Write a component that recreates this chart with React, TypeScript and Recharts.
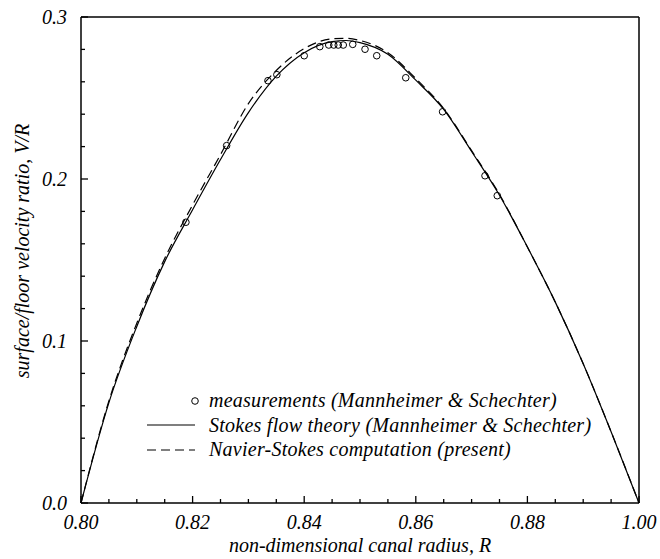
import React from 'react';
import { ComposedChart, Line, Scatter, XAxis, YAxis, Legend, Label } from 'recharts';

// radius positions for the two theory curves
const R_THEORY = [
  0.8, 0.805, 0.81, 0.815, 0.82, 0.825, 0.83, 0.835, 0.84, 0.845, 0.8475,
  0.85, 0.855, 0.86, 0.865, 0.87, 0.875, 0.88, 0.885, 0.89, 0.895, 0.9,
];
const V_STOKES = [
  0, 0.062, 0.109, 0.149, 0.181, 0.212, 0.241, 0.2635, 0.278, 0.2848, 0.2855,
  0.2842, 0.277, 0.261, 0.243, 0.217, 0.19, 0.158, 0.124, 0.086, 0.044, 0,
];
const V_NAVIER = [
  0, 0.063, 0.111, 0.151, 0.184, 0.215, 0.2465, 0.267, 0.2805, 0.2865, 0.2868,
  0.2855, 0.278, 0.262, 0.2435, 0.2175, 0.1905, 0.158, 0.124, 0.086, 0.044, 0,
];

// measurements (Mannheimer & Schechter)
const R_MEASURED = [
  0.8188, 0.8261, 0.8335, 0.8351, 0.84, 0.8428, 0.8444, 0.8453, 0.8461, 0.847,
  0.8487, 0.8509, 0.853, 0.8582, 0.8648, 0.8724, 0.8746,
];
const V_MEASURED = [
  0.1733, 0.2206, 0.2607, 0.2644, 0.2761, 0.2817, 0.2827, 0.2827, 0.2827, 0.2827,
  0.2831, 0.2801, 0.2761, 0.2625, 0.2415, 0.202, 0.1897,
];

const X_TICKS = [
  0.8, 0.805, 0.81, 0.815, 0.82, 0.825, 0.83, 0.835, 0.84, 0.845, 0.85,
  0.855, 0.86, 0.865, 0.87, 0.875, 0.88, 0.885, 0.89, 0.895, 0.9,
];
const X_MAJOR = [0.8, 0.82, 0.84, 0.86, 0.88, 0.9];
const X_LABELS = ['0.80', '0.82', '0.84', '0.86', '0.88', '1.00'];

const Y_TICKS = [
  0, 0.02, 0.04, 0.06, 0.08, 0.1, 0.12, 0.14, 0.16, 0.18, 0.2, 0.22, 0.24, 0.26, 0.28, 0.3,
];
const Y_MAJOR = [0, 0.1, 0.2, 0.3];
const Y_LABELS = ['0.0', '0.1', '0.2', '0.3'];

const LEGEND_LABELS = [
  'measurements (Mannheimer & Schechter)',
  'Stokes flow theory (Mannheimer & Schechter)',
  'Navier-Stokes computation (present)',
];
const X_TITLE = 'non-dimensional canal radius, R';
const Y_TITLE = 'surface/floor velocity ratio, V/R';

const stokes = R_THEORY.map((r, i) => ({ x: r, y: V_STOKES[i] }));
const navier = R_THEORY.map((r, i) => ({ x: r, y: V_NAVIER[i] }));
const measured = R_MEASURED.map((r, i) => ({ x: r, y: V_MEASURED[i] }));

const FONT: React.CSSProperties = {
  fontFamily: "'Liberation Serif', 'Times New Roman', serif",
  fontStyle: 'italic',
  fontSize: 20,
  fill: '#000',
};

const majorIndex = (list: number[], v: number) => list.findIndex((m) => Math.abs(m - v) < 1e-6);

// tick marks point into the plot, long at labelled values
const bottomTick = (p: any) => {
  const x = Number(p.x);
  const y = Number(p.y);
  const i = majorIndex(X_MAJOR, p.payload.value);
  return (
    <g>
      <line x1={x} x2={x} y1={y} y2={y - (i >= 0 ? 7 : 4)} stroke="#000" strokeWidth={1.3} />
      {i >= 0 && (
        <text x={x} y={y + 26} textAnchor="middle" style={FONT}>
          {X_LABELS[i]}
        </text>
      )}
    </g>
  );
};

const topTick = (p: any) => {
  const x = Number(p.x);
  const y = Number(p.y);
  const i = majorIndex(X_MAJOR, p.payload.value);
  return (
    <g>
      <line x1={x} x2={x} y1={y} y2={y + (i >= 0 ? 7 : 4)} stroke="#000" strokeWidth={1.3} />
    </g>
  );
};

const leftTick = (p: any) => {
  const x = Number(p.x);
  const y = Number(p.y);
  const i = majorIndex(Y_MAJOR, p.payload.value);
  return (
    <g>
      <line x1={x} x2={x + (i >= 0 ? 7 : 4)} y1={y} y2={y} stroke="#000" strokeWidth={1.3} />
      {i >= 0 && (
        <text x={x - 14} y={y} dy="0.33em" textAnchor="end" style={FONT}>
          {Y_LABELS[i]}
        </text>
      )}
    </g>
  );
};

const rightTick = (p: any) => {
  const x = Number(p.x);
  const y = Number(p.y);
  const i = majorIndex(Y_MAJOR, p.payload.value);
  return (
    <g>
      <line x1={x} x2={x - (i >= 0 ? 7 : 4)} y1={y} y2={y} stroke="#000" strokeWidth={1.3} />
    </g>
  );
};

function XTitle(props: any) {
  const { x, y, width } = props.viewBox;
  return (
    <text x={x + width / 2} y={y + 49} textAnchor="middle" style={FONT}>
      {X_TITLE}
    </text>
  );
}

function YTitle(props: any) {
  const { y, height } = props.viewBox;
  const cx = 22;
  const cy = y + height / 2 - 9;
  return (
    <text x={cx} y={cy} dy="0.35em" textAnchor="middle" transform={`rotate(-90, ${cx}, ${cy})`} style={FONT}>
      {Y_TITLE}
    </text>
  );
}

const OpenCircle = ({ cx, cy }: any) => (
  <circle cx={cx} cy={cy} r={3.3} fill="none" stroke="#000" strokeWidth={1} />
);

function renderLegend() {
  const icons = [
    <circle cx={50} cy={12} r={3.3} fill="none" stroke="#000" strokeWidth={1} />,
    <line x1={2} x2={50} y1={12} y2={12} stroke="#000" strokeWidth={1.2} />,
    <line x1={2} x2={50} y1={12} y2={12} stroke="#000" strokeWidth={1.2} strokeDasharray="9 5" />,
  ];
  return (
    <div style={{ fontFamily: FONT.fontFamily, fontStyle: 'italic', fontSize: 20, color: '#000' }}>
      {LEGEND_LABELS.map((label, i) => (
        <div key={label} style={{ display: 'flex', alignItems: 'center', height: 24.5, whiteSpace: 'nowrap' }}>
          <svg width={64} height={24} style={{ flex: 'none' }}>
            {icons[i]}
          </svg>
          <span style={{ letterSpacing: 0.25 }}>{label}</span>
        </div>
      ))}
    </div>
  );
}

const axisLine = { stroke: '#000', strokeWidth: 1.5 };

export default function App() {
  return (
    <div style={{ width: 660, height: 559, background: '#fff' }}>
      <style>{'body{margin:0}'}</style>
      <ComposedChart width={660} height={559} margin={{ top: 16, right: 20, bottom: 26, left: 0 }}>
        <XAxis
          dataKey="x"
          type="number"
          domain={[0.8, 0.9]}
          ticks={X_TICKS}
          interval={0}
          tickSize={0}
          tickMargin={0}
          tickLine={false}
          tick={bottomTick}
          axisLine={axisLine}
          height={30}
        >
          <Label content={<XTitle />} />
        </XAxis>
        <XAxis
          xAxisId="top"
          orientation="top"
          type="number"
          domain={[0.8, 0.9]}
          ticks={X_TICKS}
          interval={0}
          tickSize={0}
          tickMargin={0}
          tickLine={false}
          tick={topTick}
          axisLine={axisLine}
          height={1}
        />
        <YAxis
          dataKey="y"
          type="number"
          domain={[0, 0.3]}
          ticks={Y_TICKS}
          interval={0}
          tickSize={0}
          tickMargin={0}
          tickLine={false}
          tick={leftTick}
          axisLine={axisLine}
          width={81}
        >
          <Label content={<YTitle />} />
        </YAxis>
        <YAxis
          yAxisId="right"
          orientation="right"
          type="number"
          domain={[0, 0.3]}
          ticks={Y_TICKS}
          interval={0}
          tickSize={0}
          tickMargin={0}
          tickLine={false}
          tick={rightTick}
          axisLine={axisLine}
          width={1}
        />
        <Line
          data={stokes}
          dataKey="y"
          type="monotone"
          stroke="#000"
          strokeWidth={1.2}
          dot={false}
          activeDot={false}
          isAnimationActive={false}
        />
        <Line
          data={navier}
          dataKey="y"
          type="monotone"
          stroke="#000"
          strokeWidth={1.2}
          strokeDasharray="9 5"
          dot={false}
          activeDot={false}
          isAnimationActive={false}
        />
        <Scatter data={measured} dataKey="y" shape={<OpenCircle />} isAnimationActive={false} />
        <Legend
          content={renderLegend}
          layout="horizontal"
          verticalAlign="middle"
          align="center"
          wrapperStyle={{ left: 145, top: 388.5, width: 500, height: 74 }}
        />
      </ComposedChart>
    </div>
  );
}
